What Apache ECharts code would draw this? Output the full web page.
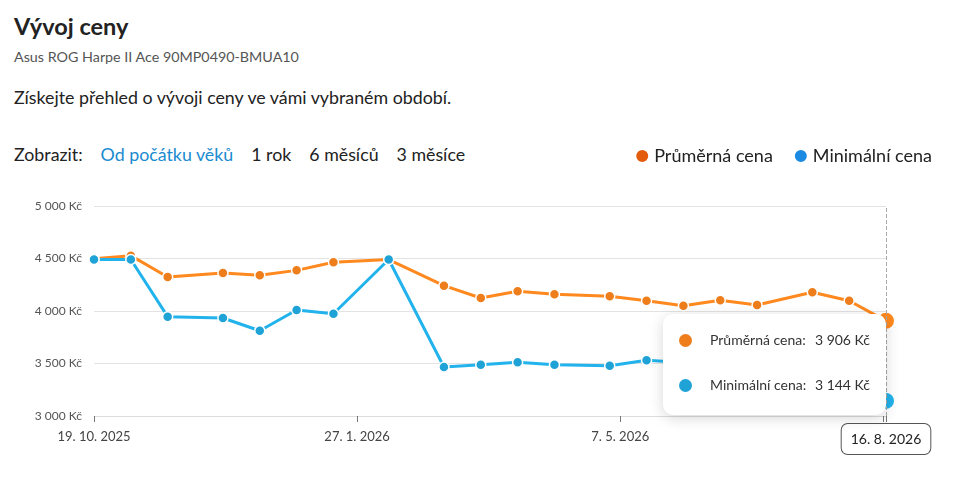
<!DOCTYPE html>
<html>
<head>
<meta charset="utf-8">
<title>Vývoj ceny</title>
<script src="https://cdn.jsdelivr.net/npm/echarts@6/dist/echarts.min.js"></script>
<style>
body{
margin:0;
background:#fff;
font-family:"Source Sans Pro",Lato,"Noto Sans",sans-serif;
color:#222;
width:957px;
height:502px;
overflow:hidden;
position:relative;
}
.head{
position:absolute;
left:14px;
top:0;
}
h1{
margin:0;
position:absolute;
top:12px;
font-size:23.5px;
font-weight:700;
white-space:nowrap;
}
.sub{
position:absolute;
top:48px;
font-size:14.3px;
color:#555;
white-space:nowrap;
}
.desc{
position:absolute;
top:86px;
font-size:17.8px;
white-space:nowrap;
}
.filter{
position:absolute;
top:143px;
font-size:17.8px;
white-space:nowrap;
}
.filter span{margin-right:18px}
.filter .on{color:#1a8bd0}
#chart{
position:absolute;
left:0;
top:0;
width:957px;
height:502px;
}
</style>
</head>
<body>

<div class="head">
<h1>Vývoj ceny</h1>
<div class="sub">Asus ROG Harpe II Ace 90MP0490-BMUA10</div>
<div class="desc">Získejte přehled o vývoji ceny ve vámi vybraném období.</div>
<div class="filter"><span>Zobrazit:</span><span class="on">Od počátku věků</span><span>1 rok</span><span>6 měsíců</span><span>3 měsíce</span></div>
</div>

<div id="chart"></div>

<script>

const dates=['2025-10-19','2025-11-02','2025-11-16','2025-12-07','2025-12-21','2026-01-04','2026-01-18','2026-02-08','2026-03-01','2026-03-15','2026-03-29','2026-04-12','2026-05-03','2026-05-17','2026-05-31','2026-06-14','2026-06-28','2026-07-19','2026-08-02','2026-08-16']

const avgPrice=[4497,4527,4324,4362,4340,4387,4464,4490,4241,4124,4188,4159,4140,4098,4050,4102,4057,4178,4098,3906]

const minPrice=[4490,4490,3946,3933,3812,4010,3974,4490,3467,3489,3511,3489,3479,3530,3510,3500,3490,3480,3420,3144]

const seriesNames=['Průměrná cena','Minimální cena']
const lineColors=['#ee7d1c','#1fa3d7']
const legendColors=['#e35b0c','#1a8ae2']

const yTicks=[3000,3500,4000,4500,5000]

const DAY=86400000
const xs=dates.map(d=>Date.parse(d+'T00:00:00Z'))
const xMax=xs[xs.length-1]

function fmtDate(v){
const d=new Date(v)
return d.getUTCDate()+'. '+(d.getUTCMonth()+1)+'. '+d.getUTCFullYear()
}

function fmtPrice(v){
return String(Math.round(v)).replace(/\B(?=(\d{3})+(?!\d))/g,'\u00a0')+'\u00a0Kč'
}

const chart=echarts.init(document.getElementById('chart'))

const font='"Source Sans Pro",Lato,"Noto Sans",sans-serif'
const cssFont=font.replace(/"/g,"'")

chart.setOption({

animation:false,

textStyle:{fontFamily:font},

legend:{
right:20,
top:142,
icon:'circle',
itemWidth:14,
itemHeight:14,
itemGap:20,
textStyle:{fontSize:18,color:'#222',fontFamily:font},
data:seriesNames.map((n,i)=>({name:n,itemStyle:{color:legendColors[i]}}))
},

grid:{left:94,right:71,top:206,bottom:86},

tooltip:{
trigger:'axis',
alwaysShowContent:true,
backgroundColor:'#fff',
borderWidth:0,
padding:[16,16,20,16],
extraCssText:'box-shadow:0 3px 14px rgba(0,0,0,0.16);border-radius:10px;',
axisPointer:{
type:'line',
lineStyle:{color:'#aaa',type:'dashed',width:1},
label:{
show:true,
formatter:p=>fmtDate(p.value),
backgroundColor:'#fff',
borderColor:'#555',
borderWidth:1,
borderRadius:6,
color:'#222',
fontSize:14,
fontFamily:font,
padding:[8,9,8,9],
margin:8
}
},
position:function(pt,params,dom,rect,size){
const p=chart.convertToPixel({xAxisIndex:0,yAxisIndex:0},[xMax,yTicks[0]])
return [p[0]-size.contentSize[0],p[1]-size.contentSize[1]-1]
},
formatter:function(params){
return params.map((p,i)=>
'<div style="display:flex;align-items:center;width:191px;line-height:20px;font-size:14px;color:#333;white-space:nowrap;font-family:'+cssFont+';'+(i?'margin-top:25px':'')+'">'+
'<span style="display:inline-block;width:13px;height:13px;border-radius:50%;background:'+p.color+';margin:0 18px 0 0"></span>'+
'<span>'+p.seriesName+':</span>'+
'<span style="margin-left:auto;padding-left:6px">'+fmtPrice(p.value[1])+'</span></div>'
).join('')
}
},

xAxis:{
type:'value',
min:xs[0],
max:xMax,
interval:100*DAY,
splitLine:{show:false},
axisLine:{show:true,lineStyle:{color:'#ddd'}},
axisTick:{show:true,length:6,lineStyle:{color:'#777'}},
axisLabel:{
formatter:v=>v>=xMax?'':fmtDate(v),
color:'#444',
fontSize:13,
margin:14,
fontFamily:font
}
},

yAxis:{
type:'value',
min:yTicks[0],
max:yTicks[yTicks.length-1],
interval:yTicks[1]-yTicks[0],
splitLine:{lineStyle:{color:'#e3e3e3'}},
axisLine:{show:false},
axisTick:{show:false},
axisLabel:{
formatter:v=>fmtPrice(v),
color:'#555',
fontSize:12,
margin:12,
fontFamily:font
}
},

series:[avgPrice,minPrice].map((arr,i)=>({
name:seriesNames[i],
type:'line',
data:arr.map((v,j)=>[xs[j],v]),
color:lineColors[i],
symbol:'circle',
symbolSize:10,
lineStyle:{width:3,color:lineColors[i]},
itemStyle:{color:lineColors[i],borderColor:'#fff',borderWidth:1.5},
emphasis:{scale:1.6,itemStyle:{borderWidth:0}}
}))

})

chart.dispatchAction({type:'showTip',seriesIndex:0,dataIndex:dates.length-1})

</script>

</body>
</html>
